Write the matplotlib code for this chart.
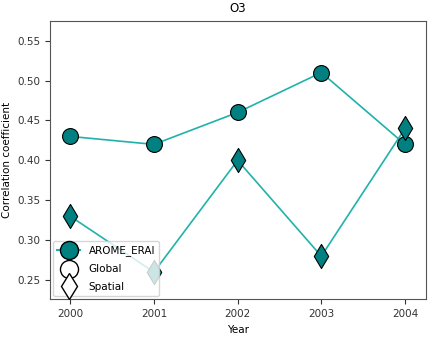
import matplotlib
matplotlib.use("Agg")
import matplotlib.pyplot as plt
from matplotlib.lines import Line2D

years = [2000, 2001, 2002, 2003, 2004]
global_corr = [0.43, 0.42, 0.46, 0.51, 0.42]
spatial_corr = [0.33, 0.26, 0.40, 0.28, 0.44]
model_name = "AROME_ERAI"
color = "teal"

fig, ax = plt.subplots(figsize=(4.32, 3.44), dpi=100)
ax.plot(years, global_corr, color="lightseagreen", lw=1.2, zorder=1)
ax.plot(years, spatial_corr, color="lightseagreen", lw=1.2, zorder=1)
ax.scatter(years, global_corr, s=130, marker="o", color=color,
           edgecolor="k", lw=0.8, zorder=2)
ax.scatter(years, spatial_corr, s=150, marker="d", color=color,
           edgecolor="k", lw=0.8, zorder=2)

ax.set_xticks(years)
ax.set_ylim(0.226, 0.575)
ax.set_xlim(1999.76, 2004.25)
ax.tick_params(labelsize=7.5, colors="#333333")
ax.set_xlabel("Year", fontsize=7.5)
ax.set_ylabel("Correlation coefficient", fontsize=7.5)
ax.set_title("O3", fontsize=8.5)
for s in ax.spines.values():
    s.set_color("#555555")

handles = [
    Line2D([], [], color="lightseagreen", marker="o", markersize=13,
           markerfacecolor=color, markeredgecolor="k"),
    Line2D([], [], ls="", marker="o", markersize=13,
           markerfacecolor="white", markeredgecolor="k"),
    Line2D([], [], ls="", marker="d", markersize=13,
           markerfacecolor="white", markeredgecolor="k"),
]
leg = ax.legend(handles, [model_name, "Global", "Spatial"], loc="lower left",
                fontsize=7.5, handlelength=2.2, labelspacing=0.75,
                borderaxespad=0.3, borderpad=0.4)
leg.set_zorder(5)

fig.subplots_adjust(left=0.116, right=0.986, top=0.94, bottom=0.13)
fig.savefig("out.png")
